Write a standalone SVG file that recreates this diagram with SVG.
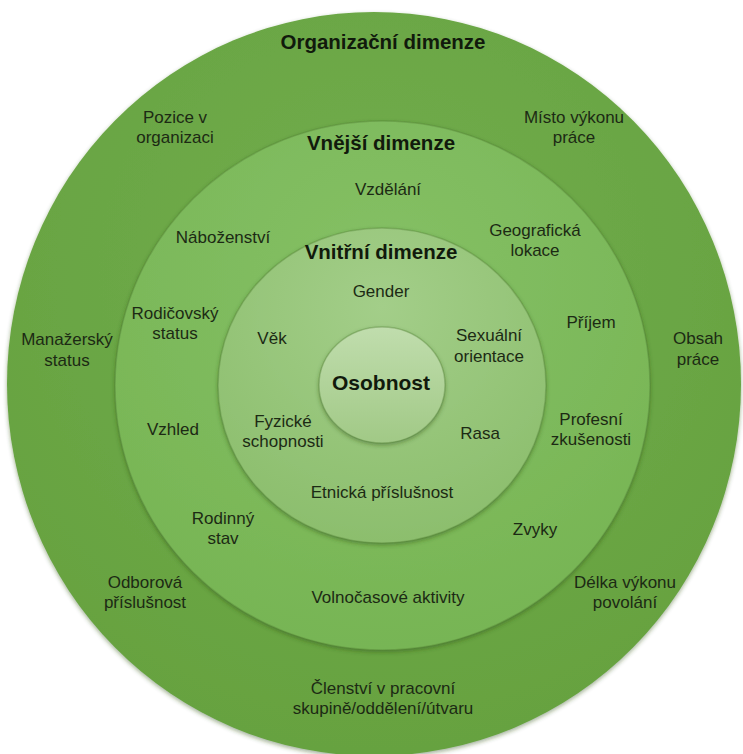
<svg xmlns="http://www.w3.org/2000/svg" width="743" height="754" viewBox="0 0 743 754">
<style>
  .t { font-family: "Liberation Sans", Arial, sans-serif; font-size: 17px; fill: #1c2a14; text-anchor: middle; }
  .h { font-family: "Liberation Sans", Arial, sans-serif; font-size: 20.5px; font-weight: bold; fill: #111a0c; text-anchor: middle; }
  .ring { stroke: #4f7f34; stroke-opacity: 0.35; stroke-width: 1.5; }
</style>
<defs>
  <radialGradient id="gOuter" cx="0.5" cy="0.35" r="0.7">
    <stop offset="0" stop-color="#72ad4c"/>
    <stop offset="1" stop-color="#65a13f"/>
  </radialGradient>
  <radialGradient id="gMid" cx="0.5" cy="0.3" r="0.7">
    <stop offset="0" stop-color="#85c065"/>
    <stop offset="1" stop-color="#77b554"/>
  </radialGradient>
  <radialGradient id="gInner" cx="0.5" cy="0.25" r="0.75">
    <stop offset="0" stop-color="#a3ce89"/>
    <stop offset="1" stop-color="#8cbe6d"/>
  </radialGradient>
  <linearGradient id="gCore" x1="0" y1="0" x2="0" y2="1">
    <stop offset="0" stop-color="#c0ddad"/>
    <stop offset="1" stop-color="#a1c986"/>
  </linearGradient>
  <filter id="sh" x="-10%" y="-10%" width="120%" height="120%">
    <feDropShadow dx="0" dy="2" stdDeviation="2" flood-color="#2f4f1f" flood-opacity="0.45"/>
  </filter>
</defs>
<rect width="743" height="754" fill="#ffffff"/>

<g id="organizacni">
  <ellipse cx="374" cy="384" rx="367" ry="372" fill="url(#gOuter)" filter="url(#sh)"/>
  <text class="h" x="383" y="49">Organizační dimenze</text>
  <text class="t" x="175" y="123">Pozice v</text>
  <text class="t" x="175" y="143">organizaci</text>
  <text class="t" x="574" y="123">Místo výkonu</text>
  <text class="t" x="574" y="143">práce</text>
  <text class="t" x="67" y="345">Manažerský</text>
  <text class="t" x="67" y="366">status</text>
  <text class="t" x="698" y="344">Obsah</text>
  <text class="t" x="698" y="365">práce</text>
  <text class="t" x="145" y="588">Odborová</text>
  <text class="t" x="145" y="608">příslušnost</text>
  <text class="t" x="625" y="588">Délka výkonu</text>
  <text class="t" x="625" y="608">povolání</text>
  <text class="t" x="383" y="694">Členství v pracovní</text>
  <text class="t" x="383" y="714">skupině/oddělení/útvaru</text>
</g>

<g id="vnejsi">
  <ellipse class="ring" cx="382.5" cy="385.5" rx="267.5" ry="264.5" fill="url(#gMid)" filter="url(#sh)"/>
  <text class="h" x="381" y="150">Vnější dimenze</text>
  <text class="t" x="388" y="195">Vzdělání</text>
  <text class="t" x="223" y="243">Náboženství</text>
  <text class="t" x="535" y="236">Geografická</text>
  <text class="t" x="535" y="256">lokace</text>
  <text class="t" x="175" y="319">Rodičovský</text>
  <text class="t" x="175" y="339">status</text>
  <text class="t" x="591" y="328">Příjem</text>
  <text class="t" x="173" y="435">Vzhled</text>
  <text class="t" x="591" y="425">Profesní</text>
  <text class="t" x="591" y="445">zkušenosti</text>
  <text class="t" x="223" y="524">Rodinný</text>
  <text class="t" x="223" y="544">stav</text>
  <text class="t" x="535" y="535">Zvyky</text>
  <text class="t" x="388" y="603">Volnočasové aktivity</text>
</g>

<g id="vnitrni">
  <ellipse class="ring" cx="382" cy="385.5" rx="164" ry="157.5" fill="url(#gInner)" filter="url(#sh)"/>
  <text class="h" x="381" y="259">Vnitřní dimenze</text>
  <text class="t" x="381" y="297">Gender</text>
  <text class="t" x="272" y="344">Věk</text>
  <text class="t" x="489" y="341">Sexuální</text>
  <text class="t" x="489" y="362">orientace</text>
  <text class="t" x="283" y="427">Fyzické</text>
  <text class="t" x="283" y="447">schopnosti</text>
  <text class="t" x="480" y="439">Rasa</text>
  <text class="t" x="382" y="498">Etnická příslušnost</text>
</g>

<g id="osobnost">
  <ellipse class="ring" cx="382" cy="385" rx="63" ry="58" fill="url(#gCore)" filter="url(#sh)"/>
  <text class="h" x="381" y="390" style="font-size:21px">Osobnost</text>
</g>

<g id="connectors"></g>
</svg>
